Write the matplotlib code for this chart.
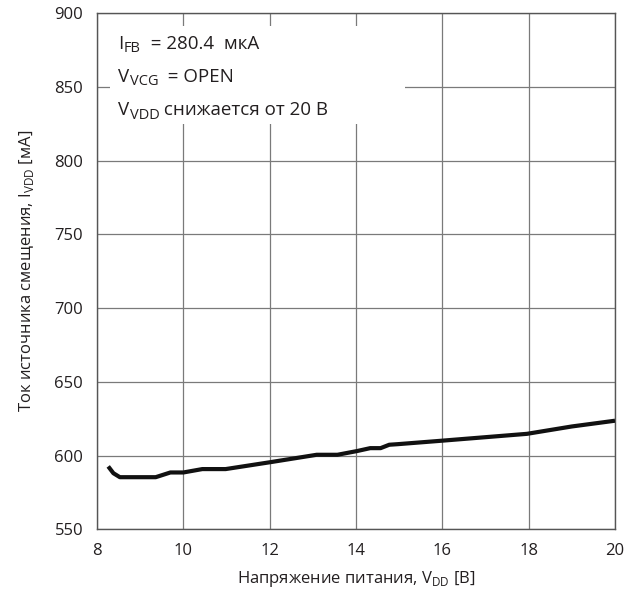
import numpy as np
import matplotlib.pyplot as plt

plt.rcParams['font.family'] = ['Open Sans', 'DejaVu Sans']
plt.rcParams['mathtext.fontset'] = 'custom'
plt.rcParams['mathtext.rm'] = 'Open Sans'

# supply voltage [V] vs bias current [mA]
vdd = [8.26, 8.38, 8.53, 9.02, 9.36, 9.70, 10.0, 10.44, 10.98, 12.02, 13.09,
       13.57, 14.02, 14.33, 14.57, 14.77, 14.97, 15.97, 17.96, 19.0, 20.0]
idd = [592.6, 588.0, 585.3, 585.3, 585.3, 588.5, 588.5, 590.8, 590.8, 595.5, 600.5,
       600.5, 603.0, 605.0, 605.0, 607.3, 607.7, 610.0, 614.7, 619.7, 623.6]

xticks = [8, 10, 12, 14, 16, 18, 20]
yticks = [550, 600, 650, 700, 750, 800, 850, 900]

# annotation: (main symbol, subscript, rest of line)
notes = [('I', 'FB', '  = 280.4  мкА'),
         ('V', 'VCG', '  = OPEN'),
         ('V', 'VDD', ' снижается от 20 В')]

txtc = '#231f20'

fig = plt.figure(figsize=(6.36, 5.96), dpi=100)
ax = fig.add_axes([0.1525, 0.112, 0.8145, 0.866])

ax.plot(vdd, idd, color='#111111', lw=3, solid_capstyle='butt', zorder=3)

ax.set_xlim(8, 20)
ax.set_ylim(550, 900)
ax.set_xticks(xticks)
ax.set_yticks(yticks)
ax.grid(True, color='#7a7a7a', lw=0.9)
ax.tick_params(length=0, labelsize=12, colors=txtc)
ax.tick_params(axis='x', pad=10)
ax.tick_params(axis='y', pad=10)
for s in ax.spines.values():
    s.set_color('#555555')
    s.set_linewidth(1.0)

ax.set_xlabel(r'Напряжение питания, V$_{\mathregular{DD}}$ [В]', fontsize=12, color=txtc, labelpad=7)
ax.set_ylabel(r'Ток источника смещения, I$_{\mathregular{VDD}}$ [мА]', fontsize=12, color=txtc, labelpad=13)

# white box behind the annotation
ax.add_patch(plt.Rectangle((0.025, 0.785), 0.57, 0.19, transform=ax.transAxes,
                           facecolor='white', edgecolor='none', zorder=2))
for i, (base, sub, rest) in enumerate(notes):
    t = ax.text(0.04, 0.931 - i * 0.0645, base, transform=ax.transAxes,
                fontsize=13.5, va='baseline', color=txtc, zorder=4)
    s = ax.annotate(sub, xy=(1, 0), xycoords=t, xytext=(0.6, -2.3),
                    textcoords='offset points', fontsize=10.5, va='bottom',
                    color=txtc, zorder=4)
    ax.annotate(rest, xy=(1, 0), xycoords=(s, t), fontsize=13.5, va='bottom',
                color=txtc, zorder=4)

fig.savefig('out.png', dpi=100)
